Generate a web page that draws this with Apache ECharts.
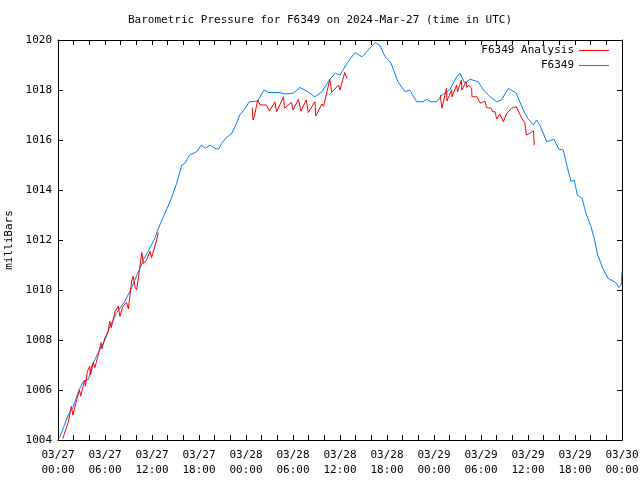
<!DOCTYPE html>
<html>
<head>
<meta charset="utf-8">
<script src="https://cdn.jsdelivr.net/npm/echarts@6/dist/echarts.min.js"></script>
<style>html,body{margin:0;padding:0;background:#fff}#c{width:640px;height:480px}</style>
</head>
<body>
<div id="c"></div>
<script>
// Hours since 2024-03-27 00:00 UTC
var blueHours = [0.2,0.7,1.3,1.9,2.6,3.2,3.9,4.3,5.1,6.0,6.5,7.5,8.55,9.4,10.3,10.9,11.6,12.4,12.8,13.45,14.3,14.7,15.15,15.8,16.2,16.8,17.7,18.3,18.8,19.4,20.0,20.5,20.9,21.5,22.2,22.8,23.2,23.9,24.4,25.4,25.8,26.3,26.9,28.3,29.0,30.0,30.9,31.9,32.8,33.7,34.7,35.4,36.0,36.9,37.9,38.8,39.4,40.5,41.1,41.7,42.5,43.4,44.3,44.9,45.8,46.6,47.1,47.5,48.35,49.0,50.0,50.9,51.3,51.95,52.6,53.65,54.3,55.15,56.0,56.6,57.5,58.5,59.4,60.0,60.7,61.1,61.5,62.4,63.3,63.95,64.5,65.0,65.5,65.9,66.3,66.9,67.4,68.05,68.5,68.9,69.55,70.2,70.6,71.2,71.6,71.9,72.0];
var bluePressure = [1004.1,1004.5,1005.0,1005.3,1005.93,1006.33,1006.43,1006.96,1007.47,1008.0,1008.45,1009.1,1009.55,1010.1,1010.75,1011.2,1011.6,1012.1,1012.45,1012.93,1013.53,1013.87,1014.27,1015.0,1015.07,1015.4,1015.53,1015.8,1015.67,1015.8,1015.67,1015.63,1015.87,1016.1,1016.27,1016.67,1017.0,1017.27,1017.53,1017.55,1017.73,1018.0,1017.9,1017.9,1017.84,1017.87,1018.1,1017.93,1017.73,1017.93,1018.43,1018.67,1018.6,1019.07,1019.5,1019.33,1019.53,1019.9,1019.78,1019.36,1019.08,1018.33,1017.93,1018.0,1017.53,1017.53,1017.63,1017.53,1017.53,1017.8,1018.0,1018.53,1018.67,1018.27,1018.43,1018.33,1018.0,1017.73,1017.53,1017.6,1018.07,1017.87,1017.2,1016.85,1016.6,1016.8,1016.6,1015.93,1016.03,1015.63,1015.6,1014.93,1014.33,1014.4,1013.8,1013.67,1013.07,1012.53,1012.0,1011.4,1010.87,1010.47,1010.4,1010.3,1010.1,1010.2,1010.75];

// Analysis series, null = gap
var redHours = [0.6,1.3,1.7,1.9,2.3,2.75,2.9,3.4,3.5,3.75,4.05,4.15,4.5,4.7,5.1,5.5,5.6,6.0,6.4,6.6,6.8,7.3,7.7,7.9,8.3,8.75,8.98,9.4,9.6,9.85,10.05,10.7,10.9,11.3,11.75,11.95,12.6,12.8,
  18.0,
  24.8,24.9,25.1,25.5,25.8,26.6,26.98,27.7,27.9,28.8,28.9,29.8,30.0,30.7,31.0,31.7,31.95,32.8,32.9,33.7,33.9,34.7,34.95,35.8,36.0,36.6,36.9,
  42.0,
  48.8,49.0,49.6,49.65,50.25,50.3,50.9,51.0,51.5,51.55,52.1,52.2,52.4,52.8,52.85,53.5,53.7,53.9,54.5,54.7,55.3,55.5,55.8,56.0,56.4,56.6,56.85,57.3,57.9,58.5,58.7,59.2,59.6,59.8,60.25,60.7,60.8];
var redPressure = [1004.05,1004.7,1005.35,1005.0,1005.5,1006.0,1005.75,1006.4,1006.15,1006.75,1006.95,1006.6,1007.1,1006.9,1007.35,1007.9,1007.65,1008.1,1008.3,1008.75,1008.5,1009.15,1009.35,1008.95,1009.35,1009.5,1009.25,1010.35,1010.55,1010.1,1010.0,1011.5,1011.05,1011.2,1011.55,1011.3,1012.0,1012.3,
  null,
  1017.3,1016.8,1017.0,1017.6,1017.4,1017.4,1017.16,1017.53,1017.13,1017.73,1017.27,1017.5,1017.2,1017.63,1017.16,1017.6,1017.1,1017.53,1016.96,1017.44,1017.35,1018.43,1017.9,1018.2,1018.0,1018.7,1018.47,
  null,
  1017.8,1017.27,1018.07,1017.56,1018.0,1017.73,1018.2,1017.93,1018.4,1018.0,1018.33,1018.1,1018.2,1018.07,1017.73,1017.73,1017.6,1017.47,1017.56,1017.3,1017.27,1017.13,1017.13,1016.84,1017.04,1017.0,1016.73,1017.07,1017.27,1017.33,1017.33,1016.87,1016.67,1016.2,1016.27,1016.37,1015.8];

var titleText = 'Barometric Pressure for F6349 on 2024-Mar-27 (time in UTC)';
var yTicks = [1004,1006,1008,1010,1012,1014,1016,1018,1020];

function zip(a, b) { return a.map(function (v, i) { return [v, b[i]]; }); }
function fmtX(h) {
  if (h % 6 !== 0) return '';
  var d = 27 + Math.floor(h / 24);
  var hh = h % 24;
  return '03/' + d + '\n' + (hh < 10 ? '0' : '') + hh + ':00';
}
var FONT = 'DejaVu Sans Mono';
function axLine() { return {show: true, onZero: false, lineStyle: {color: '#000', width: 1}}; }
function tick() { return {show: true, inside: true, length: 5, lineStyle: {color: '#000', width: 1}}; }
var chart = echarts.init(document.getElementById('c'), null, {renderer: 'canvas'});
chart.setOption({
  animation: false,
  backgroundColor: '#fff',
  title: {text: titleText, left: 'center', top: 10, textStyle: {fontFamily: FONT, fontSize: 11, fontWeight: 'normal', color: '#000'}},
  grid: {left: 58, right: 18, top: 40, bottom: 40, containLabel: false, outerBoundsMode: 'none'},
  legend: [
    {data: ['F6349 Analysis'], right: 26, top: 40, align: 'right', icon: 'rect', itemWidth: 30, itemHeight: 1, itemGap: 5, textStyle: {fontFamily: FONT, fontSize: 11, color: '#000'}},
    {data: ['F6349'], right: 26, top: 55, align: 'right', icon: 'rect', itemWidth: 30, itemHeight: 1, itemGap: 5, textStyle: {fontFamily: FONT, fontSize: 11, color: '#000'}}
  ],
  xAxis: [
    {type: 'value', min: 0, max: 72, interval: 2, position: 'bottom', axisLine: axLine(), axisTick: tick(), splitLine: {show: false},
      axisLabel: {formatter: fmtX, fontFamily: FONT, fontSize: 11, color: '#000', lineHeight: 15, margin: 8, hideOverlap: false}},
    {type: 'value', min: 0, max: 72, interval: 2, position: 'top', axisLine: axLine(), axisTick: tick(), splitLine: {show: false}, axisLabel: {show: false}}
  ],
  yAxis: [
    {type: 'value', min: yTicks[0], max: yTicks[yTicks.length - 1], interval: 2, position: 'left', name: 'milliBars', nameLocation: 'middle', nameGap: 42, nameRotate: 90,
      nameTextStyle: {fontFamily: FONT, fontSize: 11, color: '#000'},
      axisLine: axLine(), axisTick: tick(), splitLine: {show: false}, axisLabel: {formatter: function (v) { return String(v); }, fontFamily: FONT, fontSize: 11, color: '#000', margin: 6}},
    {type: 'value', min: yTicks[0], max: yTicks[yTicks.length - 1], interval: 2, position: 'right', axisLine: axLine(), axisTick: tick(), splitLine: {show: false}, axisLabel: {show: false}}
  ],
  series: [
    {name: 'F6349 Analysis', type: 'line', data: zip(redHours, redPressure), showSymbol: false, symbol: 'none', connectNulls: false, lineStyle: {color: '#ff0000', width: 1}, itemStyle: {color: '#ff0000'}, z: 3},
    {name: 'F6349', type: 'line', data: zip(blueHours, bluePressure), showSymbol: false, symbol: 'none', lineStyle: {color: '#0080ff', width: 1}, itemStyle: {color: '#0080ff'}, z: 2}
  ]
});
</script>
</body>
</html>
